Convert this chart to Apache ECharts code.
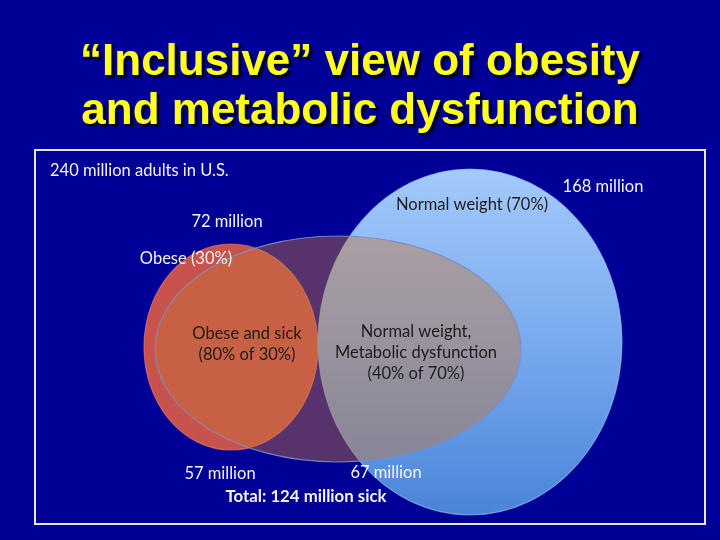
<!DOCTYPE html>
<html>
<head>
<meta charset="utf-8">
<script src="https://cdn.jsdelivr.net/npm/echarts@6/dist/echarts.min.js"></script>
<style>
  html, body { margin: 0; padding: 0; background: #000096; }
  #chart { width: 720px; height: 540px; }
</style>
</head>
<body>
<div id="chart"></div>
<script>
// population figures (millions of U.S. adults)
const totalAdults = 240;
const setNames = ["Obese", "Normal weight"];
const setShares = [30, 70]; // % of all adults
const setMillions = [72, 168];
const sickShares = [80, 40]; // % of each group with metabolic dysfunction
const sickMillions = [57, 67];
const totalSick = 124;

// ellipses in frame units (frame is 670 x 374): red obese, blue normal, translucent "sick" overlay
const ellipseNames = ["obese", "normal", "sick"];
const ellipseCx = [196, 435, 303];
const ellipseCy = [197, 192, 199];
const ellipseRx = [87, 152, 183];
const ellipseRy = [103, 173, 113];

function echartSetup(container) {
  let myChart = echarts.init(container),
    option;

  let fills = [
    "#c8524c",
    new echarts.graphic.LinearGradient(0, 0, 0, 1, [
      { offset: 0, color: "#a4cafb" },
      { offset: 0.5, color: "#78aaee" },
      { offset: 1, color: "#4a84d8" }
    ]),
    "rgba(200,118,56,0.43)"
  ];
  let strokes = ["rgba(225,120,110,0.7)", "rgba(150,190,240,0.6)", "rgba(130,140,190,0.9)"];

  let ellipseData = ellipseNames.map(function (n, i) {
    return [ellipseCx[i], ellipseCy[i], ellipseRx[i], ellipseRy[i], i];
  });

  let white = "#f4f4f4",
    dark = "#1c1c1c";
  // labels: [x, y, text, colour, align, bold]
  let labelData = [
    [15, 21, totalAdults + " million adults in U.S.", white, "left", 0],
    [192, 72, setMillions[0] + " million", white, "center", 0],
    [151, 109, setNames[0] + " (" + setShares[0] + "%)", white, "center", 0],
    [212, 194, setNames[0] + " and sick\n(" + sickShares[0] + "% of " + setShares[0] + "%)", dark, "center", 0],
    [437, 55, setNames[1] + " (" + setShares[1] + "%)", dark, "center", 0],
    [568, 37, setMillions[1] + " million", white, "center", 0],
    [381, 203, setNames[1] + ",\nMetabolic dysfunction\n(" + sickShares[1] + "% of " + setShares[1] + "%)", dark, "center", 0],
    [185, 324, sickMillions[0] + " million", white, "center", 0],
    [351, 323, sickMillions[1] + " million", white, "center", 0],
    [271, 347, "Total: " + totalSick + " million sick", white, "center", 1]
  ];

  option = {
    backgroundColor: "#000096",
    animation: false,
    title: {
      text: "\u201cInclusive\u201d view of obesity\nand metabolic dysfunction",
      left: "center",
      top: 33,
      textStyle: {
        fontFamily: "Liberation Sans",
        fontSize: 44,
        fontWeight: "bold",
        lineHeight: 49,
        color: "#ffff1e",
        textShadowColor: "rgba(0,0,0,0.85)",
        textShadowOffsetX: 3,
        textShadowOffsetY: 3,
        textShadowBlur: 2
      }
    },
    grid: {
      left: 35,
      top: 150,
      width: 670,
      height: 374,
      show: true,
      borderColor: "#e8e8f4",
      borderWidth: 2,
      backgroundColor: "transparent"
    },
    xAxis: { type: "value", min: 0, max: 670, show: false },
    yAxis: { type: "value", min: 0, max: 374, inverse: true, show: false },
    series: [
      {
        type: "custom",
        name: "sets",
        clip: false,
        data: ellipseData,
        renderItem: function (params, api) {
          let c = api.coord([api.value(0), api.value(1)]),
            s = api.size([api.value(2), api.value(3)]),
            i = api.value(4);
          return {
            type: "ellipse",
            shape: { cx: c[0], cy: c[1], rx: Math.abs(s[0]), ry: Math.abs(s[1]) },
            style: { fill: fills[i], stroke: strokes[i], lineWidth: 1.2 }
          };
        }
      },
      {
        type: "custom",
        name: "labels",
        clip: false,
        data: labelData,
        renderItem: function (params, api) {
          let d = labelData[params.dataIndex],
            c = api.coord([d[0], d[1]]);
          return {
            type: "text",
            x: c[0],
            y: c[1],
            style: {
              text: d[2],
              fill: d[3],
              align: d[4],
              verticalAlign: "middle",
              fontFamily: "Lato",
              fontSize: d[5] ? 16.8 : 16.5,
              fontWeight: d[5] ? "bold" : "normal",
              lineHeight: 21
            }
          };
        }
      }
    ]
  };

  if (option && typeof option === "object") myChart.setOption(option);
  window.addEventListener("resize", function () {
    myChart.resize();
  });
}

echartSetup(document.getElementById("chart"));
</script>
</body>
</html>
